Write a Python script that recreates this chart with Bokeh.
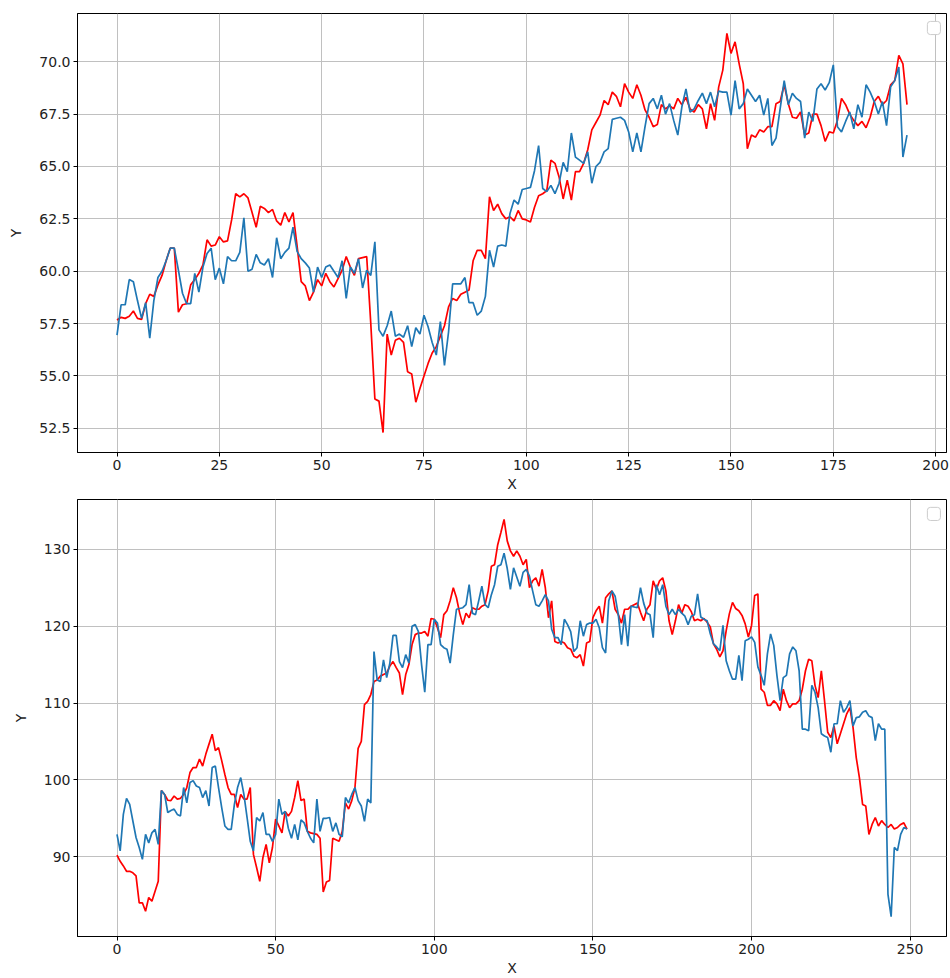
import numpy as np
from bokeh.plotting import figure
from bokeh.layouts import column
from bokeh.models import Range1d, FixedTicker, NumeralTickFormatter, BoxAnnotation
from bokeh.embed import file_html
from bokeh.resources import INLINE

# ---- upper panel: two series over 194 steps ----
top_red = [
    57.67, 57.8, 57.75, 57.85, 58.1, 57.75, 57.7, 58.45, 58.9, 58.8,
    59.35, 59.8, 60.5, 61.1, 61.1, 58.05, 58.4, 58.45, 59.35, 59.6,
    59.9, 60.3, 61.5, 61.2, 61.25, 61.65, 61.4, 61.45, 62.45, 63.7,
    63.55, 63.7, 63.5, 62.8, 62.1, 63.1, 63.0, 62.8, 62.95, 62.4,
    62.2, 62.8, 62.35, 62.8, 61.2, 59.5, 59.3, 58.6, 59.0, 59.6,
    59.3, 59.9, 59.5, 59.25, 59.65, 60.05, 60.7, 60.2, 59.8, 60.6,
    60.65, 60.7, 57.5, 53.9, 53.8, 52.3, 57.0, 56.0, 56.7, 56.8,
    56.6, 55.2, 55.1, 53.75, 54.4, 55.0, 55.6, 56.1, 56.4, 56.9,
    57.4, 58.3, 58.7, 58.6, 58.9, 59.0, 59.1, 60.5, 61.0, 61.0,
    60.6, 63.55, 62.9, 63.2, 62.75, 62.5, 62.6, 62.4, 62.9, 62.5,
    62.45, 62.35, 63.05, 63.6, 63.7, 63.85, 65.3, 65.15, 64.5, 63.45,
    64.35, 63.4, 64.75, 64.75, 65.15, 65.8, 66.75, 67.1, 67.45, 68.15,
    67.95, 68.55, 68.35, 67.85, 68.95, 68.55, 68.25, 68.9, 68.4, 67.7,
    67.35, 66.9, 67.0, 67.95, 67.75, 67.9, 67.75, 68.25, 67.95, 68.3,
    67.75, 67.6, 67.95, 67.75, 66.8, 68.0, 67.2, 68.8, 69.6, 71.35,
    70.4, 70.95, 69.9, 68.95, 65.85, 66.5, 66.4, 66.75, 66.65, 66.9,
    66.9, 68.0, 68.1, 68.9, 68.0, 67.35, 67.3, 67.6, 66.5, 66.6,
    67.5, 67.5, 66.95, 66.2, 66.65, 66.6, 67.2, 68.25, 67.95, 67.5,
    67.2, 66.95, 67.15, 66.85, 67.35, 68.1, 68.35, 67.95, 68.15, 68.9,
    69.1, 70.3, 69.9, 67.95,
]
top_blue = [
    56.95, 58.4, 58.4, 59.6, 59.5, 58.6, 57.75, 58.5, 56.8, 58.6,
    59.7, 60.0, 60.5, 61.1, 61.1, 60.05, 58.95, 58.45, 58.45, 59.9,
    59.0, 60.2, 60.85, 61.1, 59.6, 60.15, 59.4, 60.7, 60.5, 60.5,
    60.9, 62.55, 60.0, 60.1, 60.8, 60.4, 60.3, 60.6, 59.7, 61.6,
    60.6, 60.9, 61.1, 62.1, 60.95, 60.6, 60.4, 60.15, 59.0, 60.2,
    59.7, 60.2, 60.3, 60.0, 59.7, 60.5, 58.7, 60.2, 59.9, 60.6,
    59.2, 60.05, 59.8, 61.4, 57.2, 56.9, 57.4, 58.1, 56.9, 57.0,
    56.85, 57.4, 56.4, 57.3, 57.0, 57.9, 57.35, 56.6, 56.0, 57.6,
    55.5, 57.1, 59.4, 59.4, 59.4, 59.7, 58.5, 58.5, 57.9, 58.1,
    58.8, 61.0, 60.2, 61.2, 61.25, 61.2, 62.75, 63.4, 63.2, 63.9,
    63.95, 64.0, 64.8, 66.0, 63.95, 63.8, 64.1, 63.7, 64.2, 65.2,
    64.75, 66.6, 65.45, 65.3, 65.15, 65.7, 64.2, 65.0, 65.2, 65.7,
    65.85, 67.25, 67.3, 67.35, 67.2, 66.65, 65.7, 66.6, 65.7, 66.9,
    68.0, 68.25, 67.75, 68.4, 67.5, 68.0, 67.2, 66.5, 67.85, 68.7,
    67.6, 67.75, 68.15, 68.5, 68.0, 68.55, 67.85, 68.6, 68.55, 68.55,
    67.45, 69.1, 67.75, 68.0, 68.7, 68.4, 68.1, 68.4, 67.45, 68.25,
    66.0, 66.35, 67.75, 69.1, 67.95, 68.5, 68.25, 68.1, 66.35, 67.6,
    67.15, 68.7, 68.95, 68.65, 69.0, 69.85, 66.9, 66.65, 67.15, 67.6,
    66.8, 67.95, 67.35, 68.9, 68.55, 68.1, 67.5, 68.1, 66.95, 68.8,
    69.1, 69.75, 65.45, 66.5,
]
top_xticks = [0, 25, 50, 75, 100, 125, 150, 175, 200]
top_yticks = [52.5, 55.0, 57.5, 60.0, 62.5, 65.0, 67.5, 70.0]

# ---- lower panel: two series over 250 steps ----
bot_red = [
    90.2, 89.4, 88.8, 88.1, 88.1, 87.9, 87.5, 84.0, 84.0, 82.9,
    84.7, 84.2, 85.5, 86.8, 98.6, 98.1, 97.35, 97.3, 97.9, 97.5,
    97.6, 98.1, 99.0, 100.95, 101.6, 101.6, 102.7, 101.8, 103.35, 104.65,
    105.95, 103.8, 104.2, 102.5, 100.7, 99.0, 98.1, 98.1, 96.4, 98.1,
    97.5, 97.5, 99.0, 90.3, 88.6, 86.8, 89.9, 91.6, 89.2, 91.2,
    94.9, 94.0, 93.1, 95.9, 95.3, 95.9, 97.7, 99.9, 97.3, 97.5,
    93.3, 93.1, 93.0, 92.9, 92.4, 85.4, 86.7, 86.9, 92.4, 92.2,
    92.0, 93.3, 97.0, 96.2, 97.3, 99.0, 104.1, 105.0, 109.8, 110.2,
    111.1, 112.8, 113.0, 113.5, 113.7, 113.9, 114.8, 115.4, 114.6, 113.9,
    111.1, 113.7, 115.0, 117.6, 118.9, 119.1, 119.1, 119.3, 118.7, 121.0,
    120.9, 119.8, 118.5, 121.5, 122.0, 123.3, 125.0, 123.7, 121.7, 120.2,
    121.7, 121.1, 122.4, 122.2, 122.2, 122.6, 122.8, 124.6, 127.8, 128.0,
    130.6, 132.2, 133.9, 131.1, 129.8, 129.1, 129.8, 129.1, 128.0, 128.7,
    125.0, 125.9, 126.3, 125.2, 127.4, 125.0, 121.1, 123.3, 118.0, 117.8,
    118.0, 117.8, 117.2, 117.0, 116.1, 115.9, 116.3, 114.8, 117.8, 118.0,
    121.1, 122.0, 122.6, 120.4, 123.7, 124.2, 124.6, 122.2, 121.5, 120.4,
    122.2, 122.2, 122.6, 122.8, 123.0, 121.8, 120.7, 122.2, 122.8, 125.9,
    124.8, 125.9, 126.3, 124.6, 120.7, 118.9, 120.7, 122.8, 121.7, 122.8,
    122.6, 121.9, 120.7, 120.9, 120.7, 121.0, 120.5, 119.9, 117.7, 117.0,
    116.0, 116.8, 119.4, 121.6, 123.1, 122.3, 122.0, 121.4, 120.3, 118.6,
    120.1, 124.0, 124.2, 111.8, 111.4, 109.7, 109.7, 110.3, 109.9, 109.0,
    111.8, 110.3, 109.4, 109.9, 109.9, 110.3, 111.8, 114.2, 115.7, 115.5,
    112.3, 110.7, 114.2, 110.3, 106.2, 105.5, 107.0, 104.7, 106.0, 107.3,
    108.6, 109.4, 106.8, 102.9, 100.3, 96.8, 96.6, 92.9, 94.2, 95.1,
    94.0, 94.7, 94.2, 93.8, 94.2, 93.6, 93.8, 94.2, 94.4, 93.6,
]
bot_blue = [
    92.9, 90.75, 95.5, 97.6, 96.8, 94.65, 92.5, 91.2, 89.65, 92.9,
    91.8, 93.1, 93.55, 91.6, 98.6, 98.1, 95.75, 96.0, 96.2, 95.5,
    95.3, 99.0, 97.0, 99.65, 99.9, 99.2, 99.0, 97.7, 98.6, 96.6,
    101.6, 101.8, 99.0, 96.4, 94.0, 93.55, 93.55, 96.8, 99.0, 100.3,
    98.1, 95.1, 92.0, 90.75, 95.1, 94.65, 95.75, 92.9, 92.9, 92.0,
    92.9, 97.5, 95.5, 95.9, 93.7, 92.4, 94.2, 92.2, 94.8, 94.4,
    93.3, 92.4, 91.8, 97.5, 93.3, 95.0, 95.0, 95.1, 93.3, 94.4,
    92.9, 92.6, 97.7, 97.0, 98.1, 99.0, 97.3, 96.6, 94.6, 97.5,
    97.0, 116.7, 113.0, 112.8, 115.6, 113.3, 115.2, 118.8, 118.8, 115.4,
    114.6, 116.3, 115.2, 120.0, 120.2, 119.3, 115.0, 111.4, 117.6, 117.6,
    120.9, 120.4, 117.6, 117.2, 117.0, 115.2, 118.9, 122.2, 122.3, 122.4,
    122.8, 125.4, 121.7, 121.5, 123.3, 125.2, 122.8, 122.4, 124.1, 125.4,
    127.8, 128.0, 129.5, 127.5, 124.8, 127.6, 126.4, 125.2, 127.0, 127.4,
    126.5, 124.6, 122.8, 122.6, 123.3, 124.1, 123.3, 119.6, 118.5, 118.5,
    117.6, 120.9, 120.2, 119.3, 116.7, 117.2, 120.7, 118.7, 120.2, 120.4,
    120.4, 120.9, 119.8, 117.2, 116.5, 123.3, 124.6, 123.9, 121.5, 117.6,
    121.5, 117.4, 122.6, 122.5, 122.4, 125.0, 123.0, 121.7, 121.5, 118.5,
    125.4, 124.1, 125.4, 122.6, 121.5, 122.2, 121.5, 122.2, 121.7, 121.3,
    120.2, 121.3, 121.5, 124.2, 121.2, 120.9, 120.7, 119.0, 117.7, 117.3,
    116.8, 120.1, 115.5, 114.2, 113.1, 113.1, 116.2, 112.9, 118.1, 118.3,
    118.6, 117.9, 114.7, 113.6, 112.3, 116.4, 119.0, 117.5, 113.6, 110.3,
    113.3, 113.6, 116.4, 117.3, 116.8, 114.2, 106.6, 106.6, 106.4, 112.3,
    111.4, 109.4, 106.0, 105.7, 105.5, 103.6, 107.3, 107.3, 110.3, 108.8,
    109.4, 110.3, 107.0, 108.1, 108.2, 108.8, 109.0, 108.3, 108.1, 105.1,
    107.3, 106.6, 106.6, 85.1, 82.2, 91.2, 90.8, 92.9, 93.8, 93.6,
]
bot_xticks = [0, 50, 100, 150, 200, 250]
bot_yticks = [90, 100, 110, 120, 130]

RED = "#ff0000"
BLUE = "#1f77b4"
FONT = "DejaVu Sans"
TEXT = "#222222"


def make_panel(red, blue, xticks, yticks, yfmt, height, top_pad, bottom_pad):
    n = len(red)
    xs = list(range(n))
    lo = min(min(red), min(blue))
    hi = max(max(red), max(blue))
    span = hi - lo
    x0, x1 = -0.05 * (n - 1), (n - 1) * 1.05
    y0, y1 = lo - 0.05 * span, hi + 0.05 * span

    p = figure(width=950, height=height,
               x_range=Range1d(x0, x1), y_range=Range1d(y0, y1),
               output_backend="svg", toolbar_location=None,
               min_border_left=77, min_border_right=4,
               min_border_top=top_pad, min_border_bottom=bottom_pad)
    p.background_fill_color = "white"
    p.border_fill_color = "white"
    p.outline_line_color = "black"
    p.outline_line_width = 1

    p.line(xs, red, line_color=RED, line_width=1.7)
    p.line(xs, blue, line_color=BLUE, line_width=1.7)

    p.xaxis.ticker = FixedTicker(ticks=xticks)
    p.yaxis.ticker = FixedTicker(ticks=yticks)
    p.yaxis.formatter = NumeralTickFormatter(format=yfmt)
    p.xaxis.axis_label = "X"
    p.yaxis.axis_label = "Y"

    for ax in (p.xaxis, p.yaxis):
        ax.axis_line_color = "black"
        ax.major_tick_line_color = "black"
        ax.major_tick_in = 0
        ax.major_tick_out = 4
        ax.minor_tick_line_color = None
        ax.major_label_text_font = FONT
        ax.major_label_text_font_size = "14px"
        ax.major_label_text_color = TEXT
        ax.major_label_standoff = 3
        ax.axis_label_text_font = FONT
        ax.axis_label_text_font_size = "14px"
        ax.axis_label_text_font_style = "normal"
        ax.axis_label_text_color = TEXT
    p.xaxis.axis_label_standoff = 3
    p.yaxis.axis_label_standoff = 12

    p.grid.grid_line_color = "#c0c0c0"
    p.grid.grid_line_width = 1

    # empty legend frame in the upper-right corner
    p.add_layout(BoxAnnotation(
        left=x0 + 0.978 * (x1 - x0), right=x0 + 0.993 * (x1 - x0),
        top=y1 - 0.018 * (y1 - y0), bottom=y1 - 0.048 * (y1 - y0),
        fill_color="white", fill_alpha=1.0,
        line_color="#cccccc", line_alpha=1.0, line_width=1,
        border_radius=3))
    return p


p_top = make_panel(top_red, top_blue, top_xticks, top_yticks, "0.0",
                   height=494, top_pad=13, bottom_pad=41)
p_bot = make_panel(bot_red, bot_blue, bot_xticks, bot_yticks, "0",
                   height=484, top_pad=5, bottom_pad=38)

layout = column(p_top, p_bot, spacing=0)
open("out.html", "w").write(file_html(layout, INLINE))
